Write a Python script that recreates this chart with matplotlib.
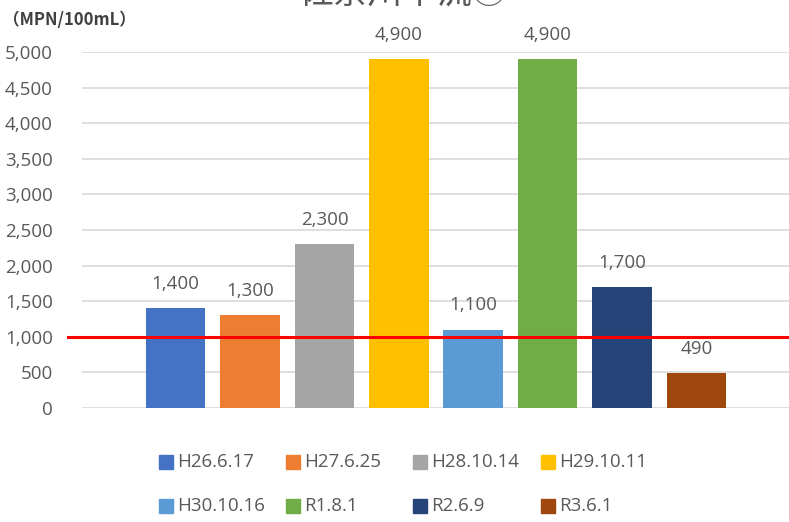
import matplotlib
matplotlib.use("Agg")
import matplotlib.pyplot as plt
from matplotlib.patches import Rectangle

# data
dates = ['H26.6.17', 'H27.6.25', 'H28.10.14', 'H29.10.11',
         'H30.10.16', 'R1.8.1', 'R2.6.9', 'R3.6.1']
counts = [1400, 1300, 2300, 4900, 1100, 4900, 1700, 490]
colors = ['#4472c4', '#ed7d31', '#a5a5a5', '#ffc000',
          '#5b9bd5', '#70ad47', '#264478', '#9e480e']
limit = 1000
yticks = [0, 500, 1000, 1500, 2000, 2500, 3000, 3500, 4000, 4500, 5000]
title = '佐奈川中流①'
unit = '（MPN/100mL）'

plt.rcParams['font.family'] = ['Open Sans', 'DejaVu Sans']
grey = '#595959'

fig = plt.figure(figsize=(7.89, 5.22), dpi=100)
ax = fig.add_axes([82/789, 1 - 408/522, 708/789, 356/522])

xs = list(range(len(counts)))
ax.bar(xs, counts, width=0.8, color=colors, zorder=2)
for x, v in zip(xs, counts):
    ax.annotate(f'{v:,}', (x, v), xytext=(0, 11), textcoords='offset points',
                ha='center', va='bottom', fontsize=13.5, color=grey)

# guideline at 1,000
ax.axhline(limit, xmin=-0.02, xmax=1, color='#ff0000', lw=2.2,
           zorder=3, clip_on=False)

ax.set_xlim(-1.26, 8.26)
ax.set_ylim(0, 5000)
ax.set_yticks(yticks)
ax.set_yticklabels([f'{t:,}' for t in yticks], fontsize=13.5, color=grey)
ax.tick_params(axis='y', length=0, pad=21)
ax.set_xticks([])
ax.grid(axis='y', color='#d9d9d9', lw=1.2, zorder=0)
for s in ax.spines.values():
    s.set_visible(False)

fig.text(3/789, 1 - 20/522, unit, ha='left', va='center', fontsize=12,
         fontweight='bold', color='#404040',
         family=['Noto Sans CJK JP', 'DejaVu Sans'])
fig.text(0.51, 1.014, title, ha='center', va='center', fontsize=25,
         color=grey, family=['Noto Sans CJK JP', 'DejaVu Sans'])

# legend drawn as equal-width columns like the source
col_x = [159, 286, 413, 541]
row_y = [462, 506]
for i, (d, c) in enumerate(zip(dates, colors)):
    px = col_x[i % 4]
    py = row_y[i // 4]
    fig.patches.append(Rectangle((px/789, 1 - (py + 7)/522),
                                 14/789, 14/522, color=c,
                                 transform=fig.transFigure))
    fig.text((px + 18)/789, 1 - py/522, d, ha='left', va='center',
             fontsize=13.5, color=grey)

fig.savefig('out.png', dpi=100)
